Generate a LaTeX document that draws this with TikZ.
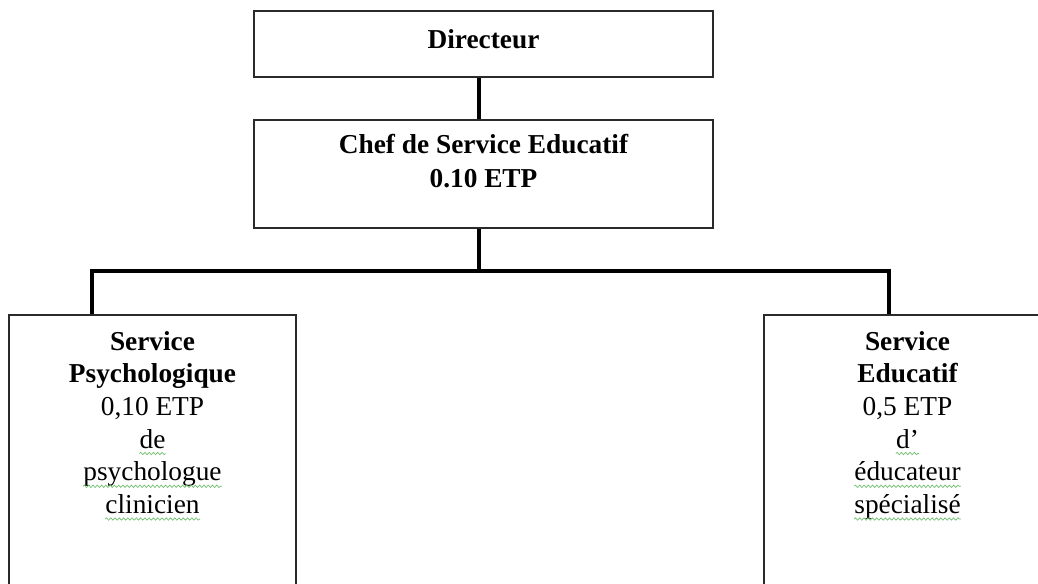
\documentclass[tikz,border=0pt]{standalone}
\usepackage{fontspec}
\setmainfont{Liberation Serif}
\usetikzlibrary{decorations.pathmorphing}
\definecolor{spell}{HTML}{6DBE6D}
\definecolor{boxgray}{HTML}{2A2A2A}
\begin{document}
\begin{tikzpicture}[x=0.75pt,y=-0.75pt,
  frame/.style={draw=boxgray, line width=1.2pt, inner sep=0pt},
  hd/.style={inner sep=0pt, anchor=base, font=\bfseries\fontsize{20.5}{24}\selectfont},
  tx/.style={inner sep=0pt, anchor=base, font=\fontsize{20.5}{24}\selectfont},
  wave/.style={draw=spell, line width=0.5pt, decorate, decoration={snake, amplitude=0.9pt, segment length=3.2pt}},
  link/.style={line width=3.4pt, line join=miter}]
\useasboundingbox (0,0) rectangle (1038,584);
\fill[white] (0,0) rectangle (1038,584);
% boxes
\node[frame, minimum width=459*0.75pt, minimum height=66*0.75pt] (dir) at (483.5,44) {};
\node[hd] (dirt) at (483.5,49) {Directeur};
\node[frame, minimum width=459*0.75pt, minimum height=108*0.75pt] (chef) at (483.5,174) {};
\node[hd] (chef1) at (483.5,154) {Chef de Service Educatif};
\node[hd] (chef2) at (483.5,188) {0.10 ETP};
\node[frame, minimum width=287*0.75pt, minimum height=400*0.75pt, anchor=north] (psy) at (152.5,314) {};
\node[hd] (psy1) at (152.5,350) {Service};
\node[hd] (psy2) at (152.5,382.7) {Psychologique};
\node[tx] (psy3) at (152.5,415.4) {0,10 ETP};
\node[tx] (psy4) at (152.5,448) {de};
\node[tx] (psy5) at (152.5,480.8) {psychologue};
\node[tx] (psy6) at (152.5,513.5) {clinicien};
\node[frame, minimum width=287*0.75pt, minimum height=400*0.75pt, anchor=north] (edu) at (907.5,314) {};
\node[hd] (edu1) at (907.5,350) {Service};
\node[hd] (edu2) at (907.5,382.7) {Educatif};
\node[tx] (edu3) at (907.5,415.4) {0,5 ETP};
\node[tx] (edu4) at (907.5,448) {d’};
\node[tx] (edu5) at (907.5,480.8) {éducateur};
\node[tx] (edu6) at (907.5,513.5) {spécialisé};
% spelling marks
\foreach \w in {psy4,psy5,psy6,edu4,edu5,edu6}
  \draw[wave] ([yshift=-5.5*0.75pt]\w.base west) -- ([yshift=-5.5*0.75pt]\w.base east);
% connectors
\coordinate (jc) at (479,271);
\coordinate (jl) at (92,271);
\coordinate (jr) at (889,271);
\draw[link] (dir.south -| jc) -- (chef.north -| jc);
\draw[link] (chef.south -| jc) -- (jc);
\draw[link] (psy.north -| jl) -- (jl) -- (jr) -- (edu.north -| jr);
\end{tikzpicture}
\end{document}
